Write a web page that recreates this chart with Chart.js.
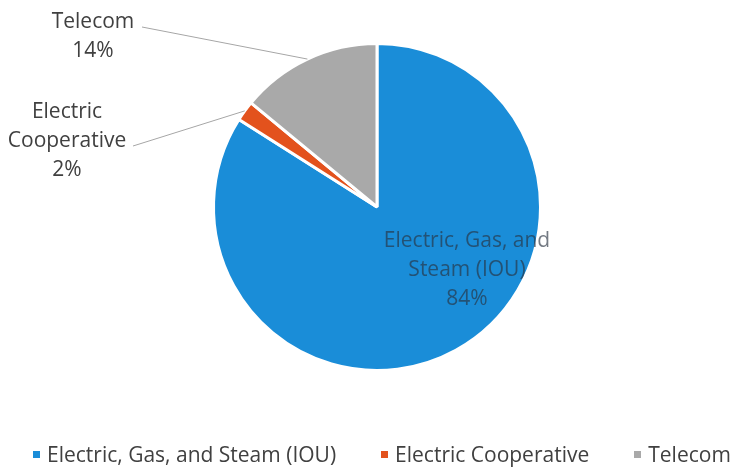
<!DOCTYPE html>
<html>
<head>
<meta charset="utf-8">
<script src="https://cdn.jsdelivr.net/npm/chart.js@4.4.1/dist/chart.umd.min.js"></script>
<style>
  html, body { margin: 0; padding: 0; background: #fff; }
  #wrap { position: relative; width: 735px; height: 468px; }
  #legend {
    position: absolute; left: 33px; top: 440px; display: flex; gap: 45px;
    font-family: "Open Sans", sans-serif; font-size: 21px; color: #404040; white-space: nowrap;
  }
  #legend span.box { display: inline-block; width: 7px; height: 7px; margin-right: 7px; vertical-align: middle; position: relative; top: -2px; }
</style>
</head>
<body>
<div id="wrap">
  <canvas id="myChart" width="735" height="468"></canvas>
  <div id="legend"></div>
</div>
<script>
const categories = ['Electric, Gas, and Steam (IOU)', 'Electric Cooperative', 'Telecom'];
const shares = [84, 2, 14];
const colors = ['#1a8dd8', '#e3521d', '#a9a9a9'];

// label text lines for each slice (wrapped like the original)
const labelLines = [['Electric, Gas, and', 'Steam (IOU)'], ['Electric', 'Cooperative'], ['Telecom']];

// where the labels sit, relative to the pie centre
const labelLayout = [
    { inside: true, dx: 90, dy: 34 },
    { inside: false, dx: -310, dy: -95, lineEnd: [-244, -61] },
    { inside: false, dx: -284, dy: -185, lineEnd: [-235, -180] },
];

const total = shares.reduce((a, b) => a + b, 0);

const pieLabels = {
    id: 'pieLabels',
    afterDatasetsDraw(chart) {
        const ctx = chart.ctx;
        const arcs = chart.getDatasetMeta(0).data;
        ctx.save();
        ctx.font = '21px "Open Sans", sans-serif';
        ctx.textAlign = 'center';
        ctx.textBaseline = 'middle';
        arcs.forEach((arc, i) => {
            const lay = labelLayout[i];
            const cx = arc.x, cy = arc.y;
            const lines = labelLines[i].concat([Math.round(shares[i] / total * 100) + '%']);
            const lh = 29;
            const x = cx + lay.dx;
            const y = cy + lay.dy;
            if (!lay.inside) {
                const mid = (arc.startAngle + arc.endAngle) / 2;
                const r = arc.outerRadius;
                ctx.strokeStyle = '#a6a6a6';
                ctx.lineWidth = 1;
                ctx.beginPath();
                ctx.moveTo(cx + Math.cos(mid) * r, cy + Math.sin(mid) * r);
                ctx.lineTo(cx + lay.lineEnd[0], cy + lay.lineEnd[1]);
                ctx.stroke();
                ctx.fillStyle = '#404040';
            } else {
                ctx.fillStyle = 'rgba(40, 50, 65, 0.65)';
            }
            lines.forEach((t, k) => ctx.fillText(t, x, y + k * lh));
        });
        ctx.restore();
    }
};

const ctx = document.getElementById('myChart').getContext('2d');
const chart = new Chart(ctx, {
    type: 'pie',
    data: {
        labels: categories,
        datasets: [{
            data: shares,
            backgroundColor: colors,
            borderColor: '#ffffff',
            borderWidth: 3,
        }],
    },
    options: {
        responsive: false,
        animation: false,
        rotation: 0,
        layout: { padding: { top: 42, bottom: 96, left: 19, right: 0 } },
        plugins: {
            legend: { display: false },
            tooltip: { enabled: false },
        },
    },
    plugins: [pieLabels],
});

// legend built from the same arrays
const legend = document.getElementById('legend');
categories.forEach((c, i) => {
    const item = document.createElement('div');
    item.innerHTML = '<span class="box" style="background:' + colors[i] + '"></span>' + c;
    legend.appendChild(item);
});
</script>
</body>
</html>
